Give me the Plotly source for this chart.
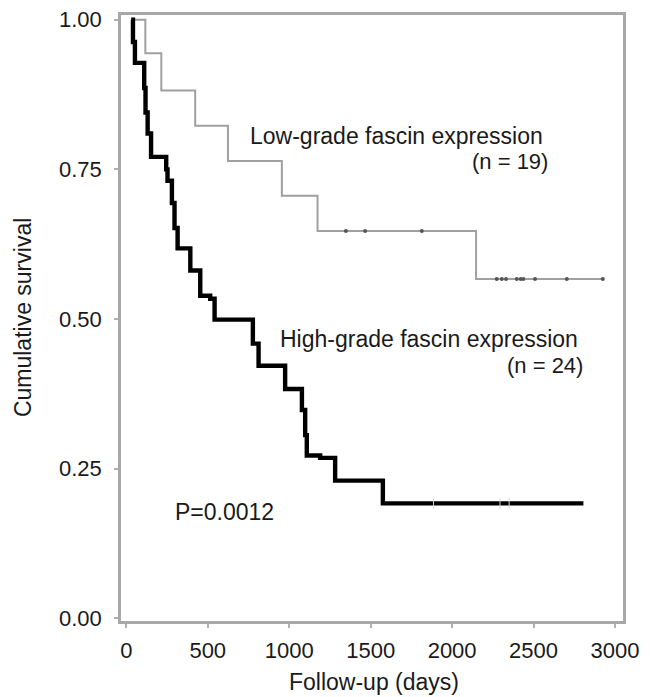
import plotly.graph_objects as go

# Low-grade fascin expression (n = 19): step times (days) and survival
low_times = [30, 117, 215, 423, 624, 955, 1174, 2147, 2925]
low_surv = [1.0, 0.944, 0.882, 0.823, 0.764, 0.706, 0.647, 0.567, 0.567]
low_cens_times = [1348, 1466, 1814, 2274, 2305, 2331, 2397, 2421, 2437, 2509, 2704, 2925]
low_cens_surv = [0.647, 0.647, 0.647, 0.567, 0.567, 0.567, 0.567, 0.567, 0.567, 0.567, 0.567, 0.567]

# High-grade fascin expression (n = 24)
high_times = [30, 41, 53, 110, 118, 131, 152, 245, 253, 280, 296, 315, 393, 454, 515, 542,
              777, 812, 975, 1078, 1098, 1108, 1190, 1282, 1575, 2806]
high_surv = [1.0, 0.963, 0.928, 0.886, 0.845, 0.810, 0.771, 0.750, 0.731, 0.694, 0.652, 0.618,
             0.581, 0.539, 0.534, 0.499, 0.459, 0.422, 0.383, 0.348, 0.306, 0.272, 0.268,
             0.230, 0.192, 0.192]
high_cens_times = [1886, 2294, 2350]
high_cens_surv = [0.192, 0.192, 0.192]

x_ticks = [0, 500, 1000, 1500, 2000, 2500, 3000]
y_ticks = [0, 0.25, 0.5, 0.75, 1.0]
y_tick_labels = ["0.00", "0.25", "0.50", "0.75", "1.00"]

FONT = "Liberation Sans, Arial, sans-serif"
TXT = "#1a1a1a"

fig = go.Figure()
fig.add_trace(go.Scatter(x=low_times, y=low_surv, mode="lines", line_shape="hv",
                         line=dict(color="#a0a0a0", width=2), hoverinfo="skip"))
fig.add_trace(go.Scatter(x=low_cens_times, y=low_cens_surv, mode="markers",
                         marker=dict(symbol="circle", size=4, color="#555555"), hoverinfo="skip"))
fig.add_trace(go.Scatter(x=high_times, y=high_surv, mode="lines", line_shape="hv",
                         line=dict(color="#000000", width=4.4), hoverinfo="skip"))
fig.add_trace(go.Scatter(x=high_cens_times, y=high_cens_surv, mode="markers",
                         marker=dict(symbol="line-ns", size=8, line=dict(color="#d8d8d8", width=1)),
                         hoverinfo="skip"))

annots = [
    dict(x=745, y=0.806, text="Low-grade fascin expression", xanchor="left", size=23),
    dict(x=2600, y=0.763, text="(n = 19)", xanchor="right", size=22),
    dict(x=930, y=0.467, text="High-grade fascin expression", xanchor="left", size=23),
    dict(x=2815, y=0.422, text="(n = 24)", xanchor="right", size=22),
    dict(x=285, y=0.177, text="P=0.0012", xanchor="left", size=23),
]
for a in annots:
    fig.add_annotation(x=a["x"], y=a["y"], xref="x", yref="y", text=a["text"],
                       xanchor=a["xanchor"], yanchor="middle", showarrow=False,
                       font=dict(family=FONT, size=a["size"], color=TXT))

# axis titles
fig.add_annotation(x=0.504, y=-0.101, xref="paper", yref="paper", text="Follow-up (days)",
                   xanchor="center", yanchor="middle", showarrow=False,
                   font=dict(family=FONT, size=23, color=TXT))
fig.add_annotation(x=-0.195, y=0.5, xref="paper", yref="paper", text="Cumulative survival",
                   textangle=-90, xanchor="center", yanchor="middle", showarrow=False,
                   font=dict(family=FONT, size=23, color=TXT))

axis_common = dict(showline=True, linecolor="#a8a8a8", linewidth=2.5, mirror=True,
                   ticks="outside", ticklen=4, tickcolor="#b0b0b0", tickwidth=1.5,
                   showgrid=False, zeroline=False, automargin=False,
                   tickfont=dict(family=FONT, size=22, color=TXT))

fig.update_layout(
    width=650, height=697,
    margin=dict(l=121, r=27, t=15, b=76),
    paper_bgcolor="white", plot_bgcolor="white",
    showlegend=False,
    xaxis=dict(range=[-32.5, 3049], tickvals=x_ticks, ticklabelstandoff=4, **axis_common),
    yaxis=dict(range=[-0.0045, 1.008], tickvals=y_ticks, ticktext=y_tick_labels,
               ticklabelstandoff=8, **axis_common),
)

fig.write_html("out.html", config={"displayModeBar": False},
               post_script="document.body.style.margin='0';document.body.style.overflow='hidden';")
